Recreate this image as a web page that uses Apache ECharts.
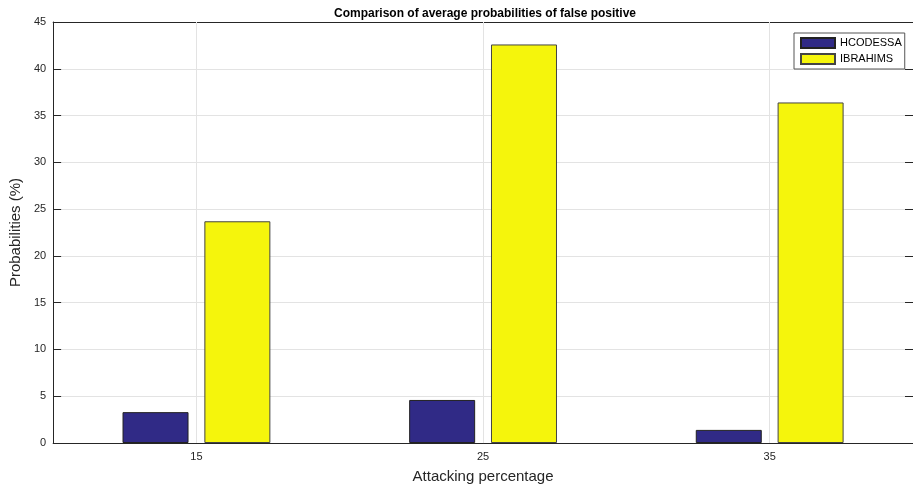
<!DOCTYPE html>
<html>
<head>
<meta charset="utf-8">
<script src="https://cdn.jsdelivr.net/npm/echarts@6/dist/echarts.min.js"></script>
<style>html,body{margin:0;padding:0;background:#fff}#c{width:913px;height:489px}</style>
</head>
<body>
<div id="c"></div>
<script>
var categories = ['15', '25', '35'];
var hcodessa = [3.3, 4.6, 1.4];
var ibrahims = [23.7, 42.6, 36.4];
var yTicks = { min: 0, max: 45, interval: 5 };

var axisColor = '#262626';
var gridColor = '#e3e3e3';
var font = 'Liberation Sans, Arial, sans-serif';
var chart = echarts.init(document.getElementById('c'));
chart.setOption({
  animation: false,
  backgroundColor: '#fff',
  title: {
    text: 'Comparison of average probabilities of false positive',
    left: 480, top: 3, textAlign: 'center',
    textStyle: { fontSize: 12, fontWeight: 'bold', color: '#000', fontFamily: font }
  },
  legend: {
    orient: 'vertical', left: 794, top: 33,
    itemWidth: 34, itemHeight: 10, itemGap: 4,
    padding: [4, 3, 4, 6],
    borderColor: '#555', borderWidth: 1, backgroundColor: '#fff',
    icon: 'rect',
    textStyle: { fontSize: 11, color: '#000', fontFamily: font },
    data: ['HCODESSA', 'IBRAHIMS']
  },
  grid: { left: 48, right: 0, top: 22, bottom: 46, containLabel: false },
  xAxis: [{
    type: 'category', data: categories,
    name: 'Attacking percentage', nameLocation: 'middle', nameGap: 26,
    nameTextStyle: { fontSize: 15, color: axisColor, fontFamily: font },
    axisLine: { lineStyle: { color: axisColor } },
    axisTick: { inside: true, alignWithLabel: true, length: 7, lineStyle: { color: axisColor } },
    axisLabel: { fontSize: 11, color: axisColor, margin: 8, fontFamily: font },
    splitLine: { show: false }
  }, {
    type: 'category', data: categories, position: 'top',
    axisLine: { show: true, onZero: false, lineStyle: { color: axisColor } },
    axisTick: { inside: true, alignWithLabel: true, length: 7, lineStyle: { color: axisColor } },
    axisLabel: { show: false }, splitLine: { show: false }
  }],
  yAxis: [{
    type: 'value', min: yTicks.min, max: yTicks.max, interval: yTicks.interval,
    name: 'Probabilities (%)', nameLocation: 'middle', nameGap: 25,
    nameTextStyle: { fontSize: 15, color: axisColor, fontFamily: font },
    axisLine: { show: true, lineStyle: { color: axisColor } },
    axisTick: { show: true, inside: true, length: 8, lineStyle: { color: axisColor } },
    axisLabel: { fontSize: 11, color: axisColor, margin: 7, fontFamily: font },
    splitLine: { show: true, lineStyle: { color: gridColor } }
  }, {
    type: 'value', min: yTicks.min, max: yTicks.max, interval: yTicks.interval, position: 'right',
    axisLine: { show: true, onZero: false, lineStyle: { color: axisColor } },
    axisTick: { show: true, inside: true, length: 8, lineStyle: { color: axisColor } },
    axisLabel: { show: false }, splitLine: { show: false }
  }],
  series: [{
    name: 'gridlines', type: 'line', data: [], silent: true, z: 0,
    markLine: {
      silent: true, symbol: ['none', 'none'],
      label: { show: false },
      lineStyle: { color: gridColor, type: 'solid', width: 1 },
      data: categories.map(function (c) { return { xAxis: c }; })
    }
  }, {
    name: 'HCODESSA', type: 'bar', data: hcodessa, barWidth: 66, barGap: '24%',
    itemStyle: { color: '#302a86', borderColor: '#222', borderWidth: 1 }
  }, {
    name: 'IBRAHIMS', type: 'bar', data: ibrahims, barWidth: 66,
    itemStyle: { color: '#f5f50c', borderColor: '#444', borderWidth: 1 }
  }]
});
</script>
</body>
</html>
